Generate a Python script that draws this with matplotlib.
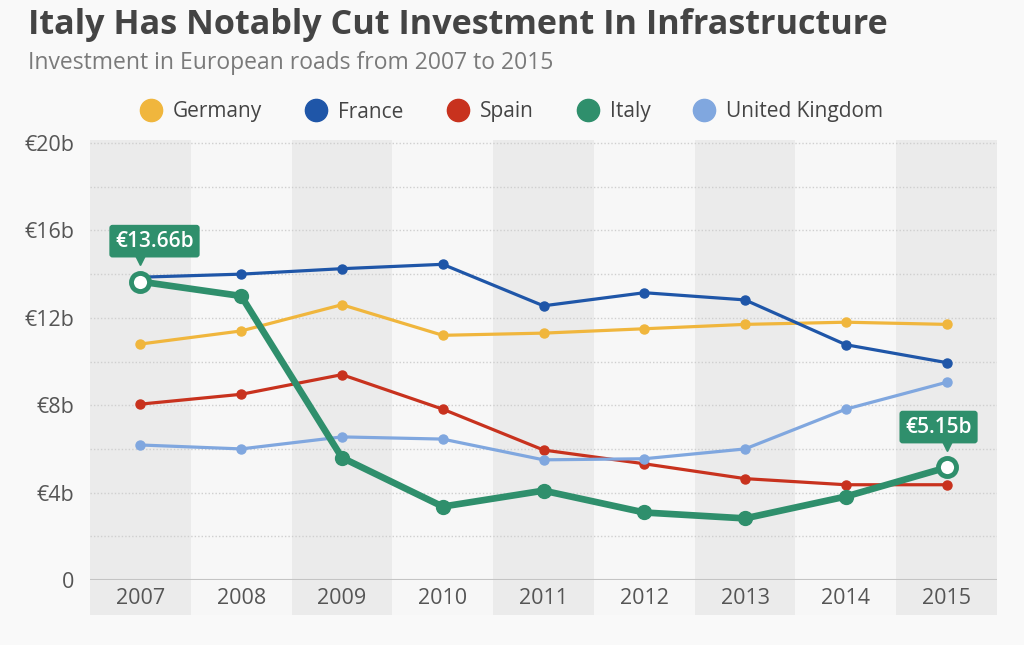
import matplotlib
matplotlib.use('Agg')
import matplotlib.pyplot as plt
from matplotlib.lines import Line2D

years = [2007, 2008, 2009, 2010, 2011, 2012, 2013, 2014, 2015]
germany = [10.8, 11.4, 12.6, 11.2, 11.3, 11.5, 11.7, 11.8, 11.7]
france = [13.86, 14.0, 14.25, 14.45, 12.55, 13.15, 12.82, 10.77, 9.95]
spain = [8.05, 8.5, 9.4, 7.82, 5.95, 5.32, 4.64, 4.36, 4.36]
italy = [13.66, 13.0, 5.6, 3.36, 4.09, 3.09, 2.82, 3.82, 5.15]
uk = [6.18, 6.0, 6.55, 6.45, 5.5, 5.55, 6.0, 7.82, 9.05]
y_ticks = [0, 4, 8, 12, 16, 20]
y_labels = ['0', '€4b', '€8b', '€12b', '€16b', '€20b']

plt.rcParams['font.family'] = ['Open Sans', 'DejaVu Sans']

bg = '#f9f9f9'
fig = plt.figure(figsize=(10.24, 6.45), dpi=100, facecolor=bg)
ax = fig.add_axes([90 / 1024, 1 - 580 / 645, 907 / 1024, 440 / 645])
ax.set_facecolor('#f7f7f7')
ax.set_xlim(2006.5, 2015.5)
ax.set_ylim(0, 20.14)

# alternating column bands, running down behind the year labels
for i, yr in enumerate(years):
    c = '#ebebeb' if i % 2 == 0 else '#f7f7f7'
    ax.axvspan(yr - 0.5, yr + 0.5, ymin=-0.08, ymax=1, color=c, lw=0, clip_on=False, zorder=0)

for v in range(2, 21, 2):
    ax.axhline(v, color='#cfcfcf', lw=1, ls=(0, (1, 1.5)), zorder=1)
ax.axhline(0, color='#c4c4c4', lw=1.5, zorder=1)

series = [
    ('Germany', germany, '#f0b63d'),
    ('France', france, '#1f56a8'),
    ('Spain', spain, '#c8321e'),
    ('Italy', italy, '#2f8f6c'),
    ('United Kingdom', uk, '#80a7df'),
]
for name, vals, col in series:
    if name == 'Italy':
        continue
    ax.plot(years, vals, color=col, lw=2.3, marker='o', ms=6.5, zorder=3)

green = '#2f8f6c'
ax.plot(years, italy, color=green, lw=4.8, marker='o', ms=10, zorder=4, solid_capstyle='round')
ax.plot([years[0], years[-1]], [italy[0], italy[-1]], ls='none', marker='o', ms=13,
        mfc='white', mec=green, mew=3.5, zorder=5)

# value labels
for x, v, dx in [(years[0], italy[0], 0.14), (years[-1], italy[-1], -0.08)]:
    ax.plot([x], [v + 1.0], marker='v', ms=7, color=green, zorder=5, clip_on=False)
    ax.text(x + dx, v + 1.85, f'€{v:.2f}b', color='white',
            fontsize=15, fontweight='semibold', ha='center', va='center', zorder=6,
            bbox=dict(boxstyle='round,pad=0.28,rounding_size=0.15', fc=green, ec='none'))

for s in ax.spines.values():
    s.set_visible(False)
ax.set_yticks(y_ticks)
ax.set_yticklabels(y_labels)
ax.set_xticks(years)
ax.tick_params(length=0, labelsize=15.5, labelcolor='#555555')
ax.tick_params(axis='x', pad=6)
ax.tick_params(axis='y', pad=11)

fig.text(28 / 1024, 1 - 25 / 645, 'Italy Has Notably Cut Investment In Infrastructure',
         fontsize=24.6, fontweight='bold', color='#444444', va='center', ha='left')
fig.text(28 / 1024, 1 - 63 / 645, 'Investment in European roads from 2007 to 2015',
         fontsize=16.5, color='#7a7a7a', va='center', ha='left')

handles = [Line2D([], [], ls='none', marker='o', ms=16, color=c) for _, _, c in series]
fig.legend(handles, [n for n, _, _ in series], loc='center', bbox_to_anchor=(0.5, 1 - 112 / 645),
           ncol=5, frameon=False, fontsize=15, labelcolor='#444444', handlelength=1.0,
           handletextpad=0.55, columnspacing=2.1)

fig.savefig('out.png', dpi=100, facecolor=bg)
